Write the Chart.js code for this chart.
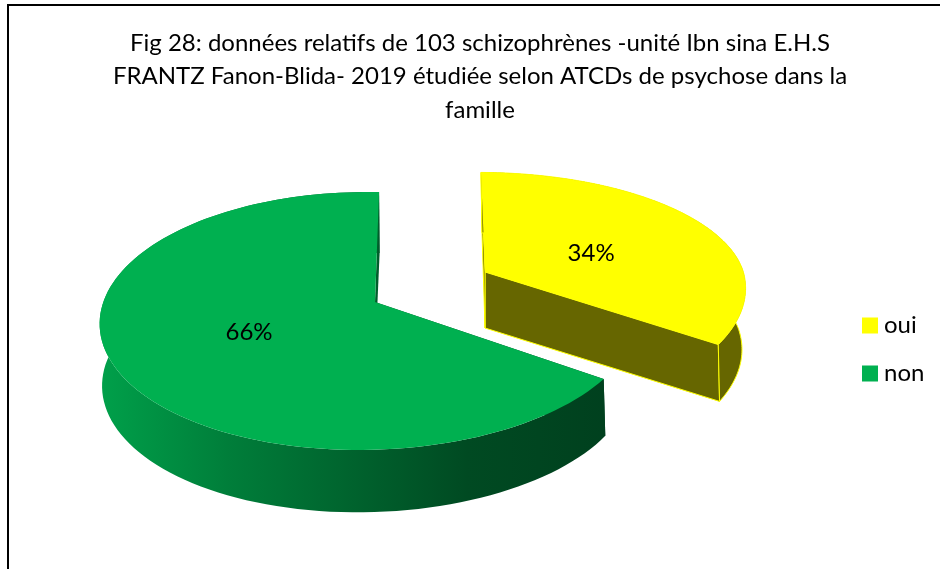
<!DOCTYPE html>
<html><head><meta charset="utf-8">
<style>html,body{margin:0;padding:0;background:#fff;overflow:hidden}canvas{display:block}</style>
<script src="https://cdn.jsdelivr.net/npm/chart.js@4"></script>
</head><body><canvas id="c" width="940" height="569"></canvas>
<script>
const categories = ['oui', 'non'];
const patients = [35, 68];
const sliceColors = ['#FFFF00', '#00B050'];
const titleLines = ['Fig 28: données relatifs de 103 schizophrènes -unité Ibn sina E.H.S',
  'FRANTZ Fanon-Blida- 2019 étudiée selon ATCDs de psychose dans la', 'famille'];

const VIEW = {
  top: {a: 265, b: 126.2, s: -8, c: -4, k: 0.147, m: 0.01, dy: 0},
  bottom: {a: 260, b: 125, s: -8, c: -3, k: 0.19, m: 0.015, dy: 56},
  slices: [
    {x: 485, y: 272, sx: 1, syBack: 0.905, syFront: 1, spin: -2 * Math.PI / 180, labelR: 0.48, labelDy: 7},
    {x: 375, y: 302, sx: 1, syBack: 1, syFront: 1, spin: 0, labelR: 0.5, labelDy: 1}
  ]
};
function proj(p, sl, ang, r) {
  const u = r * Math.cos(ang + sl.spin), v = r * Math.sin(ang + sl.spin);
  const w = 1 - p.k * v + p.m * u;
  const dx = (p.a * u + p.s * (v + v * v) / 2) / w + p.c * r;
  return [sl.x + sl.sx * dx, sl.y + p.dy + (v < 0 ? sl.syBack : sl.syFront) * p.b * v / w];
}
function poly(ctx, pts) { ctx.beginPath(); pts.forEach((q, i) => i ? ctx.lineTo(q[0], q[1]) : ctx.moveTo(q[0], q[1])); ctx.closePath(); }

const pie3d = {
  id: 'pie3d',
  afterLayout(chart) {
    const lg = chart.legend;
    const w = lg.right - lg.left;
    lg.left = 844; lg.right = lg.left + w;
    lg.top += 65; lg.bottom += 65;
  },
  beforeDraw(chart) {
    const ctx = chart.ctx;
    ctx.save(); ctx.strokeStyle = '#000'; ctx.lineWidth = 2;
    ctx.strokeRect(8, 5, 2000, 2000); ctx.restore();
  },
  beforeDatasetDraw(chart, args) {
    const ctx = chart.ctx, arcs = args.meta.data;
    [1, 0].forEach(i => {
      const el = arcs[i], a0 = el.startAngle, a1 = el.endAngle, sl = VIEW.slices[i];
      const n = 120, topRim = [], botRim = [];
      for (let j = 0; j <= n; j++) {
        const a = a0 + (a1 - a0) * j / n;
        topRim.push(proj(VIEW.top, sl, a, 1)); botRim.push(proj(VIEW.bottom, sl, a, 1));
      }
      const tipT = proj(VIEW.top, sl, 0, 0), tipB = proj(VIEW.bottom, sl, 0, 0);
      let fill;
      if (i === 1) {
        fill = ctx.createLinearGradient(100, 0, 610, 0);
        fill.addColorStop(0, '#00A04A'); fill.addColorStop(0.25, '#007E3A');
        fill.addColorStop(0.72, '#004A22'); fill.addColorStop(1, '#00401E');
      } else fill = '#666600';
      const edge = i === 0 ? '#FFFF00' : null;
      const paint = pts => { poly(ctx, pts); ctx.fillStyle = fill; ctx.fill(); if (edge) { ctx.strokeStyle = edge; ctx.lineWidth = 1; ctx.stroke(); } };
      paint([tipT, topRim[n], botRim[n], tipB]);
      paint([tipT, topRim[0], botRim[0], tipB]);
      paint(topRim.concat(botRim.slice().reverse()));
      poly(ctx, [tipT].concat(topRim));
      ctx.fillStyle = sliceColors[i]; ctx.fill();
    });
    return false;
  },
  afterDatasetsDraw(chart) {
    const ctx = chart.ctx, arcs = chart.getDatasetMeta(0).data;
    const total = patients.reduce((s, x) => s + x, 0);
    ctx.save(); ctx.fillStyle = '#000'; ctx.font = '24px Lato'; ctx.textAlign = 'center'; ctx.textBaseline = 'middle';
    arcs.forEach((el, i) => {
      const sl = VIEW.slices[i];
      const q = proj(VIEW.top, sl, (el.startAngle + el.endAngle) / 2, sl.labelR);
      ctx.fillText(Math.round(patients[i] / total * 100) + '%', q[0], q[1] + sl.labelDy);
    });
    ctx.restore();
  }
};

new Chart(document.getElementById('c'), {
  type: 'pie',
  data: { labels: categories, datasets: [{ data: patients, backgroundColor: sliceColors, borderWidth: 0 }] },
  plugins: [pie3d],
  options: {
    responsive: false, animation: false, rotation: 2,
    layout: { padding: { left: 20 } },
    plugins: {
      tooltip: { enabled: false },
      title: { display: true, text: titleLines, color: '#000', padding: { top: 26, bottom: 11 },
        font: { family: 'Lato', size: 24, weight: 'normal', lineHeight: 1.4 } },
      legend: { position: 'right', labels: { color: '#000', usePointStyle: true, pointStyle: 'rect', boxWidth: 4, boxHeight: 16, padding: 24, font: { family: 'Lato', size: 24 } } }
    }
  }
});
</script></body></html>
